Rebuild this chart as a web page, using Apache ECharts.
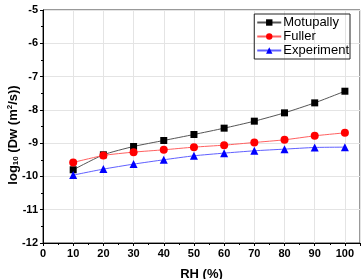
<!DOCTYPE html>
<html>
<head>
<meta charset="utf-8">
<script src="https://cdn.jsdelivr.net/npm/echarts@6/dist/echarts.min.js"></script>
<style>
  html, body { margin: 0; padding: 0; background: #fff; }
  #main { width: 362px; height: 279px; }
</style>
</head>
<body>
<div id="main"></div>
<script>
// RH (%)
var rh = [10, 20, 30, 40, 50, 60, 70, 80, 90, 100];
// log10 Dw values
var motupally = [-9.8, -9.35, -9.1, -8.92, -8.74, -8.55, -8.34, -8.09, -7.79, -7.44];
var fuller = [-9.58, -9.37, -9.27, -9.2, -9.12, -9.06, -8.98, -8.9, -8.78, -8.69];
var experiment = [-9.96, -9.78, -9.63, -9.5, -9.38, -9.3, -9.23, -9.18, -9.13, -9.12];

function pairs(vals) {
    return vals.map(function (v, i) { return [rh[i], v]; });
}

var font = 'Liberation Sans, Arial, sans-serif';
var myChart = echarts.init(document.getElementById('main'));
myChart.setOption({
    backgroundColor: '#fff',
    animation: false,
    grid: {
        left: 43, right: 2, top: 10, bottom: 36,
        outerBoundsMode: 'none',
        containLabel: false,
        show: true, borderColor: '#333', borderWidth: 1
    },
    // y axis title, placed by hand so the subscript/superscript stay right
    graphic: [{
        type: 'text',
        x: 13, y: 135,
        rotation: Math.PI / 2,
        style: {
            text: '{b|log}{s|10}{b| (Dw (m}{p|2}{b|/s))}',
            align: 'center',
            verticalAlign: 'middle',
            fill: '#000',
            rich: {
                b: { fontFamily: font, fontWeight: 'bold', fontSize: 13, fill: '#000' },
                s: { fontFamily: font, fontWeight: 'bold', fontSize: 8, fill: '#000', padding: [6, 0, 0, 0] },
                p: { fontFamily: font, fontWeight: 'bold', fontSize: 8, fill: '#000', padding: [0, 0, 6, 0] }
            }
        }
    }],
    legend: {
        orient: 'vertical',
        right: 12, top: 14,
        borderColor: '#222', borderWidth: 1,
        padding: [2, 1, 2, 2],
        itemGap: 1,
        itemWidth: 24, itemHeight: 8,
        textStyle: { fontFamily: font, fontSize: 13, color: '#000', padding: [0, 0, 0, -3] },
        data: ['Motupally', 'Fuller', 'Experiment']
    },
    xAxis: {
        type: 'value',
        min: 0, max: 105, interval: 10,
        name: 'RH (%)',
        nameLocation: 'middle',
        nameGap: 25,
        nameTextStyle: { fontFamily: font, fontWeight: 'bold', fontSize: 13, color: '#000' },
        axisLine: { lineStyle: { color: '#000', width: 1 } },
        axisTick: { length: 3, lineStyle: { color: '#000' } },
        minorTick: { show: true, splitNumber: 2, length: 2, lineStyle: { color: '#000' } },
        axisLabel: {
            fontFamily: font, fontWeight: 'bold', fontSize: 11, color: '#000', margin: 5,
            formatter: function (v) { return v > 100 ? '' : v; }
        },
        splitLine: { show: true, lineStyle: { color: '#e4e4e4', width: 1 } }
    },
    yAxis: {
        type: 'value',
        min: -12, max: -5, interval: 1,
        axisLine: { show: true, lineStyle: { color: '#000', width: 1 } },
        axisTick: { show: true, length: 3, lineStyle: { color: '#000' } },
        minorTick: { show: true, splitNumber: 2, length: 2, lineStyle: { color: '#000' } },
        axisLabel: { fontFamily: font, fontWeight: 'bold', fontSize: 11, color: '#000', margin: 5 },
        splitLine: { show: true, lineStyle: { color: '#e4e4e4', width: 1 } }
    },
    series: [
        {
            name: 'Motupally', type: 'line', smooth: 0.2,
            data: pairs(motupally),
            symbol: 'rect', symbolSize: 7,
            itemStyle: { color: '#000' },
            lineStyle: { color: '#555', width: 1 }
        },
        {
            name: 'Fuller', type: 'line', smooth: 0.2,
            data: pairs(fuller),
            symbol: 'circle', symbolSize: 8,
            itemStyle: { color: '#ff0000' },
            lineStyle: { color: '#ff6060', width: 1 }
        },
        {
            name: 'Experiment', type: 'line', smooth: 0.2,
            data: pairs(experiment),
            symbol: 'triangle', symbolSize: 8,
            itemStyle: { color: '#0000ff' },
            lineStyle: { color: '#6060ff', width: 1 }
        }
    ]
});
</script>
</body>
</html>
